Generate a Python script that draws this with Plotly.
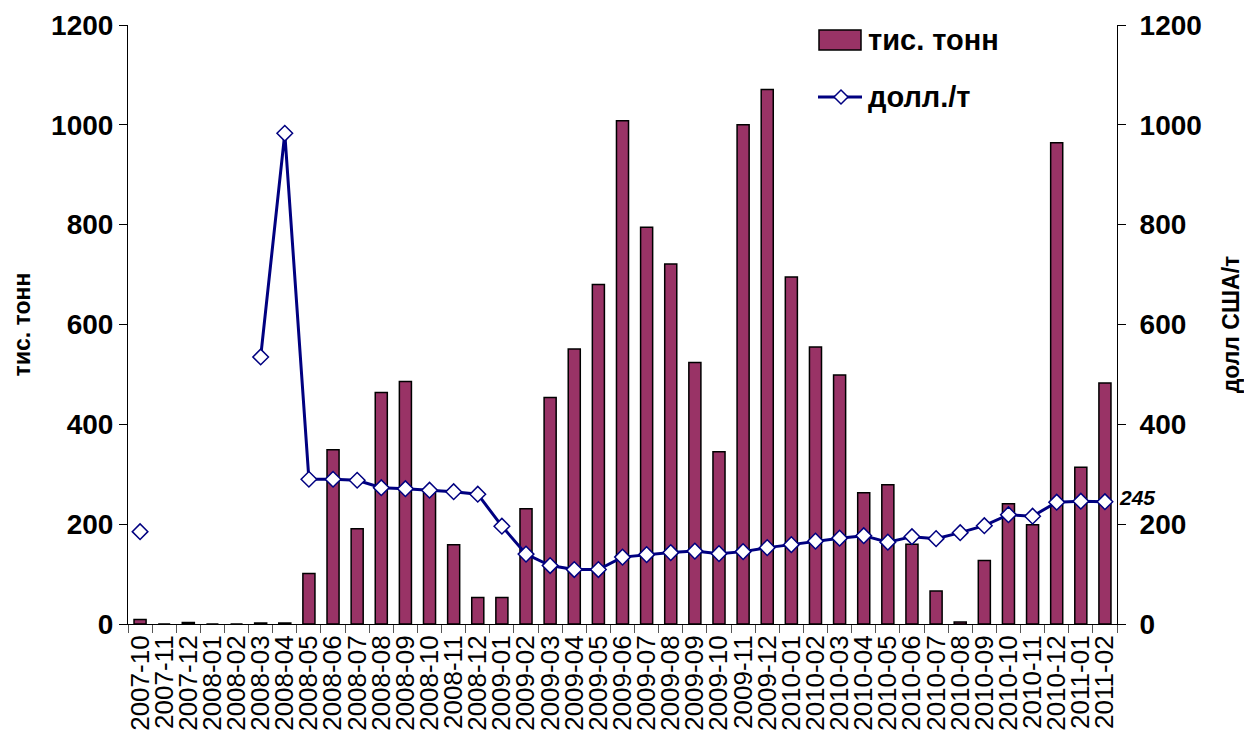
import plotly.graph_objects as go

months = ["2007-10", "2007-11", "2007-12",
          "2008-01", "2008-02", "2008-03", "2008-04", "2008-05", "2008-06",
          "2008-07", "2008-08", "2008-09", "2008-10", "2008-11", "2008-12",
          "2009-01", "2009-02", "2009-03", "2009-04", "2009-05", "2009-06",
          "2009-07", "2009-08", "2009-09", "2009-10", "2009-11", "2009-12",
          "2010-01", "2010-02", "2010-03", "2010-04", "2010-05", "2010-06",
          "2010-07", "2010-08", "2010-09", "2010-10", "2010-11", "2010-12",
          "2011-01", "2011-02"]

volume_kt = [9, 0, 3,
             0, 0, 2, 2, 101, 349,
             191, 464, 486, 270, 159, 53,
             53, 231, 454, 551, 680, 1008,
             795, 721, 524, 345, 1000, 1071,
             695, 555, 499, 263, 279, 160,
             66, 4, 127, 241, 199, 964,
             314, 483]

price_usd = [185, None, None,
             None, None, 535, 983, 290, 290,
             288, 273, 271, 268, 265, 260,
             196, 140, 117, 109, 109, 134,
             139, 143, 146, 141, 145, 153,
             159, 166, 172, 177, 164, 175,
             171, 183, 197, 219, 216, 244,
             246, 245]

legend_names = ["тис. тонн", "долл./т"]

BAR_COLOR = "#993366"
LINE_COLOR = "#000080"

fig = go.Figure()
fig.add_trace(go.Bar(
    x=months, y=volume_kt, name=legend_names[0], showlegend=False,
    marker=dict(color=BAR_COLOR, line=dict(color="black", width=1.5)),
    width=0.5,
))
fig.add_trace(go.Scatter(
    x=months, y=price_usd, name=legend_names[1], yaxis="y2", showlegend=False,
    mode="lines+markers", connectgaps=False,
    line=dict(color=LINE_COLOR, width=3),
    marker=dict(symbol="diamond", size=12, color="white",
                line=dict(color=LINE_COLOR, width=1.5)),
))

fig.add_annotation(x=months[-1], y=price_usd[-1], yref="y2", text="<b><i>245</i></b>",
                   showarrow=False, xanchor="left", xshift=12, yshift=4,
                   font=dict(family="Arial", size=21, color="black"))

# --- hand-built legend (page px -> plot-area paper coords) ---
PX0, PX1, PY0, PY1 = 128, 1117, 25, 624
def px(x):
    return (x - PX0) / (PX1 - PX0)
def py(y):
    return (PY1 - y) / (PY1 - PY0)

legend_font = dict(family="Arial", size=29, color="black", weight="bold")
fig.add_shape(type="rect", xref="paper", yref="paper",
              x0=px(819), x1=px(861), y0=py(50), y1=py(30),
              fillcolor=BAR_COLOR, line=dict(color="black", width=1.5))
fig.add_shape(type="line", xref="paper", yref="paper",
              x0=px(818), x1=px(862), y0=py(97), y1=py(97),
              line=dict(color=LINE_COLOR, width=3))
fig.add_shape(type="path", xref="paper", yref="paper",
              xsizemode="pixel", ysizemode="pixel",
              xanchor=px(841), yanchor=py(97),
              path="M -7 0 L 0 7 L 7 0 L 0 -7 Z",
              fillcolor="white", line=dict(color=LINE_COLOR, width=1.5))
fig.add_annotation(xref="paper", yref="paper", x=px(866), y=py(40),
                   text=legend_names[0], showarrow=False,
                   xanchor="left", yanchor="middle", font=legend_font)
fig.add_annotation(xref="paper", yref="paper", x=px(866), y=py(97),
                   text=legend_names[1], showarrow=False,
                   xanchor="left", yanchor="middle", font=legend_font)

tick_font = dict(family="Arial", size=28, color="black", weight="bold")
title_font = dict(family="Arial", size=23, color="black", weight="bold")

fig.update_layout(
    width=1244, height=747,
    margin=dict(l=PX0, r=1244 - PX1, t=PY0, b=747 - PY1),
    plot_bgcolor="white", paper_bgcolor="white",
    showlegend=False,
    xaxis=dict(type="category", range=[-0.5, len(months) - 0.5],
               tickmode="array", tickvals=months, ticktext=months,
               tickangle=-90, showgrid=False, automargin=False,
               showline=True, linecolor="black", linewidth=1,
               ticks="outside", ticklen=8, tickcolor="#555",
               tickson="boundaries",
               tickfont=dict(family="Arial", size=26, color="black")),
    yaxis=dict(range=[0, 1200], dtick=200, showgrid=False, zeroline=False,
               showline=True, linecolor="black", linewidth=1, automargin=False,
               ticks="outside", ticklen=8, tickcolor="black",
               tickfont=tick_font,
               title=dict(text="тис. тонн", standoff=14, font=title_font)),
    yaxis2=dict(range=[0, 1200], dtick=200, overlaying="y", side="right",
                showgrid=False, zeroline=False, automargin=False,
                showline=True, linecolor="black", linewidth=1,
                ticks="outside", ticklen=8, tickcolor="black",
                ticklabelstandoff=8,
                tickfont=tick_font,
                title=dict(text="долл США/т", standoff=27, font=title_font)),
)

# remove the browser's default 8px body margin so the figure fills the window exactly
fig.write_html("out.html", config={"displayModeBar": False},
               post_script="document.body.style.margin='0';")
